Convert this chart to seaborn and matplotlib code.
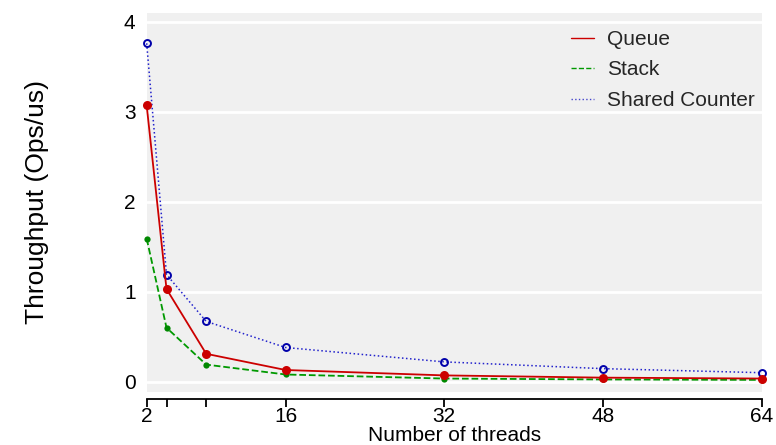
import matplotlib
matplotlib.use('Agg')
import matplotlib.pyplot as plt
import seaborn as sns
import pandas as pd
from matplotlib.lines import Line2D

threads = [2, 4, 8, 16, 32, 48, 64]
queue = [3.07, 1.03, 0.31, 0.13, 0.07, 0.045, 0.035]
stack = [1.59, 0.60, 0.19, 0.08, 0.035, 0.025, 0.02]
shared = [3.76, 1.19, 0.67, 0.38, 0.22, 0.145, 0.10]
series_names = ['Queue', 'Stack', 'Shared Counter']
xticks = [2, 4, 8, 16, 32, 48, 64]
xticklabels = ['2', '', '', '16', '32', '48', '64']
yticks = [0, 1, 2, 3, 4]

sns.set_theme(style='white')
plt.rcParams['font.family'] = ['Liberation Sans', 'DejaVu Sans']

fig = plt.figure(figsize=(7.76, 4.45), dpi=100)
ax = fig.add_axes([0.189, 0.1198, 0.7927, 0.8503])
ax.set_facecolor('#F0F0F0')

df_q = pd.DataFrame({'threads': threads, 'val': queue})
df_s = pd.DataFrame({'threads': threads, 'val': stack})
df_c = pd.DataFrame({'threads': threads, 'val': shared})

sns.lineplot(data=df_c, x='threads', y='val', ax=ax, color='#2222CC', lw=1.1,
             linestyle=':', marker='o', markersize=5, markerfacecolor='none',
             markeredgecolor='#0000AA', markeredgewidth=1.4, clip_on=False, zorder=3)
sns.lineplot(data=df_s, x='threads', y='val', ax=ax, color='#009900', lw=1.3,
             linestyle='--', marker='o', markersize=4.5, markerfacecolor='#008800',
             markeredgewidth=0, clip_on=False, zorder=4)
sns.lineplot(data=df_q, x='threads', y='val', ax=ax, color='#CC0000', lw=1.3,
             linestyle='-', marker='o', markersize=6.5, markerfacecolor='#CC0000',
             markeredgewidth=0, clip_on=False, zorder=5)

ax.set_xlim(2, 64)
ax.set_ylim(-0.111, 4.093)
ax.set_xticks(xticks)
ax.set_xticklabels(xticklabels)
ax.set_yticks(yticks)
ax.set_yticklabels([str(v) for v in yticks])

for s in ['top', 'right', 'left']:
    ax.spines[s].set_visible(False)
ax.spines['bottom'].set_position(('outward', 5))
ax.spines['bottom'].set_bounds(2, 64)
ax.spines['bottom'].set_color('black')
ax.spines['bottom'].set_linewidth(1.3)

ax.tick_params(axis='x', direction='out', length=6, width=1.3, color='black',
               labelsize=15, pad=0, labelcolor='black', bottom=True)
ax.tick_params(axis='y', length=0, labelsize=15, pad=8, labelcolor='black')

ax.yaxis.grid(True, color='white', lw=2)
ax.xaxis.grid(False)
ax.set_axisbelow(True)

ax.set_xlabel('Number of threads', fontsize=15, labelpad=0, color='black')
ax.set_ylabel('Throughput (Ops/us)', fontsize=19, labelpad=54, color='black')

handles = [Line2D([], [], color='#CC0000', lw=1),
           Line2D([], [], color='#009900', lw=1, ls='--'),
           Line2D([], [], color='#4444CC', lw=1, ls=':')]
ax.legend(handles, series_names, loc='upper right', bbox_to_anchor=(0.995, 0.967),
          frameon=False, fontsize=15, handlelength=1.1, handletextpad=0.6,
          labelspacing=0.55, borderpad=0.2, borderaxespad=0)

fig.savefig('out.png', dpi=100)
